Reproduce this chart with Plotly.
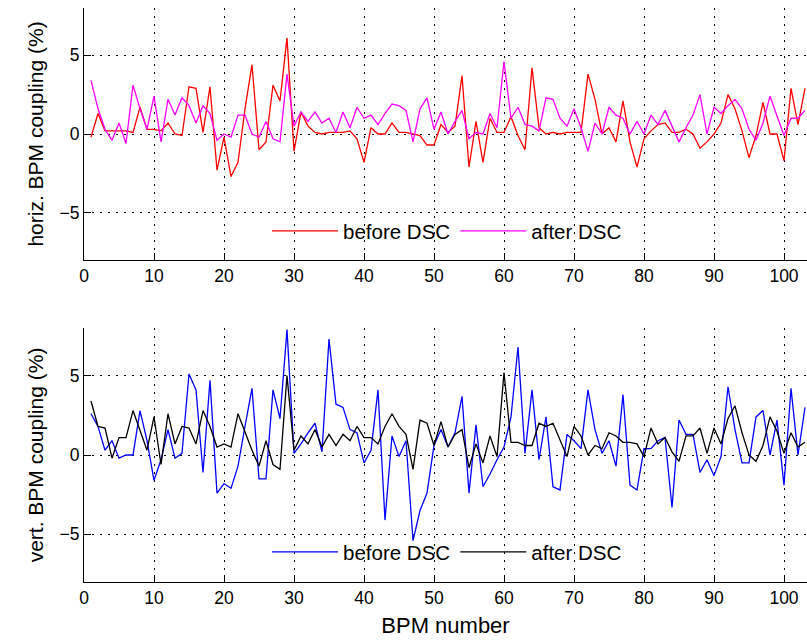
import plotly.graph_objects as go
from plotly.subplots import make_subplots

bpm = list(range(1, 104))

horiz_before = [
    -0.2, 1.3, 0.2, 0.2, 0.2, 0.2, 0.1, 1.7, 0.3, 0.3,
    0.2, 0.7, 0.0, -0.1, 3.0, 2.9, 0.1, 3.0, -2.3, -0.2,
    -2.7, -1.8, 1.6, 4.4, -1.0, -0.5, 3.1, 2.1, 6.1, -1.1,
    1.4, 0.5, 0.1, 0.0, 0.1, 0.1, 0.1, 0.2, -0.3, -1.8,
    0.4, 0.0, 0.0, 0.7, 0.1, 0.1, 0.0, -0.1, -0.7, -0.7,
    0.6, 0.1, 0.5, 3.7, -2.1, 0.8, -1.8, 1.0, 0.1, 0.1,
    1.1, -0.1, -1.0, 4.2, 0.4, 0.0, 0.1, 0.0, 0.1, 0.1,
    0.1, 3.8, 2.2, 0.0, 0.4, -0.5, 2.1, -0.5, -2.1, -0.3,
    0.2, 0.6, 0.7, 0.1, 0.1, 0.3, 0.0, -0.9, -0.5, 0.0,
    0.7, 2.5, 1.6, 0.2, -1.5, -0.1, 2.0, 0.0, 0.0, -1.7,
    2.9, 0.6, 2.9,
]
horiz_after = [
    3.4, 1.6, 0.3, -0.4, 0.7, -0.6, 3.1, 1.6, 0.3, 2.4,
    -0.5, 2.2, 1.2, 2.3, 1.8, 0.7, 1.8, 1.3, -0.4, 0.0,
    -0.2, 1.2, 1.2, 0.0, -0.2, 0.8, -0.3, -0.5, 3.8, 0.5,
    1.4, 0.8, 1.4, 0.7, 1.0, 0.1, 1.4, 0.4, 1.7, 1.0,
    1.2, 0.6, 1.3, 1.9, 1.8, 1.5, -0.5, 1.6, 2.3, 0.3,
    1.4, 0.0, 0.8, 1.5, -0.3, 0.1, 0.0, 1.3, 0.4, 4.6,
    1.0, 1.7, 0.6, 0.5, 0.2, 2.3, 2.2, 1.0, 0.5, 1.6,
    0.4, -1.1, 0.7, 0.0, 1.7, 1.2, 1.0, 0.0, 0.8, 0.0,
    1.2, 0.6, 1.5, 0.5, -0.5, 0.4, 1.2, 2.5, 0.0, 1.7,
    1.3, 1.8, 2.2, 1.6, 0.3, -0.4, 0.7, 2.4, 1.2, -0.1,
    1.0, 1.0, 1.5,
]
vert_before = [
    2.6, 1.8, 0.3, 0.9, -0.2, 0.0, 0.0, 2.8, 0.9, -1.6,
    -0.3, 1.6, -0.2, 0.1, 5.1, 4.1, -1.1, 4.7, -2.4, -1.8,
    -2.1, -0.7, 1.8, 4.2, -1.5, -1.5, 4.1, 2.3, 7.9, 0.1,
    0.7, 1.4, 2.0, 0.2, 7.3, 3.2, 3.0, 1.6, 1.4, -0.5,
    0.3, 4.1, -4.1, 1.2, -0.1, 0.9, -5.4, -3.5, -2.4, 0.6,
    1.6, 0.5, 1.4, 3.7, -2.4, 1.9, -2.0, -1.2, -0.3, 0.5,
    2.4, 6.8, 0.1, 4.1, -0.3, 2.4, -2.0, -2.2, 1.3, 0.9,
    0.4, 4.1, 1.6, 0.1, 0.9, -0.7, 3.8, -1.9, -2.2, 0.4,
    0.4, 0.9, 1.1, -3.3, 2.2, 1.3, 1.3, -1.1, -0.3, -1.3,
    -0.1, 4.3, 1.6, -0.5, -0.5, 2.4, 2.8, 0.0, 2.2, -1.9,
    4.2, 0.0, 3.0,
]
vert_after = [
    3.4, 1.8, 1.7, -0.2, 1.1, 1.1, 2.8, 1.6, 0.3, 2.4,
    -0.6, 2.6, 0.7, 1.8, 1.7, 0.7, 2.8, 1.8, 0.5, 0.7,
    0.5, 2.6, 1.4, 0.3, -0.7, 0.9, -0.6, -0.9, 5.0, 0.3,
    1.2, 0.7, 1.6, 0.5, 1.3, 0.6, 1.3, 0.9, 1.8, 1.1,
    1.1, 0.7, 1.8, 2.6, 1.8, 1.3, -0.9, 2.2, 2.0, 0.6,
    2.1, 0.5, 1.3, 1.6, -0.8, 0.7, -0.5, 1.2, -0.1, 5.2,
    0.8, 0.8, 0.6, 0.6, 2.0, 1.8, 2.0, 0.9, -0.1, 1.8,
    1.2, 0.0, 0.6, 0.4, 1.4, 1.2, 0.8, 0.8, 0.7, -0.1,
    1.7, 0.7, 1.1, 0.2, -0.4, 1.2, 1.2, 1.7, 0.1, 1.7,
    0.7, 2.3, 3.1, 1.4, 0.0, -0.4, 0.6, 2.4, 1.5, 0.1,
    1.4, 0.5, 0.8,
]

y_ticks = [-5, 0, 5]
x_ticks = [0, 10, 20, 30, 40, 50, 60, 70, 80, 90, 100]
legend_labels = ["before DSC", "after DSC"]
y_titles = ["horiz. BPM coupling (%)", "vert. BPM coupling (%)"]
x_title = "BPM number"

FONT = "Liberation Sans, Arial, sans-serif"

fig = make_subplots(rows=2, cols=1, vertical_spacing=0.0)

fig.add_trace(go.Scatter(x=bpm, y=horiz_before, mode="lines", name=legend_labels[0],
                         line=dict(color="#ff0000", width=1.3), legend="legend"), row=1, col=1)
fig.add_trace(go.Scatter(x=bpm, y=horiz_after, mode="lines", name=legend_labels[1],
                         line=dict(color="#ff00ff", width=1.3), legend="legend"), row=1, col=1)
fig.add_trace(go.Scatter(x=bpm, y=vert_before, mode="lines", name=legend_labels[0],
                         line=dict(color="#0000ff", width=1.3), legend="legend2"), row=2, col=1)
fig.add_trace(go.Scatter(x=bpm, y=vert_after, mode="lines", name=legend_labels[1],
                         line=dict(color="#000000", width=1.3), legend="legend2"), row=2, col=1)

L, R, T, B = 84, 0, 8, 59
W, H = 807, 641
ph = H - T - B

def py(img_y):
    return (H - img_y - B) / ph

axis_common = dict(
    showline=True, linecolor="black", linewidth=1, mirror=False,
    ticks="inside", ticklen=7, tickcolor="black", tickwidth=1,
    showgrid=True, gridcolor="black", griddash="1.5px,6.5px", gridwidth=1.3,
    zeroline=False, tickfont=dict(family=FONT, size=17.5, color="black"),
)

for r in (1, 2):
    fig.update_xaxes(range=[0, (W - L) / 7.0], tickvals=x_ticks, row=r, col=1, **axis_common)
    fig.update_yaxes(range=[-8, 8], tickvals=y_ticks, row=r, col=1,
                     title=dict(text=y_titles[r - 1], font=dict(family=FONT, size=21, color="black"),
                                standoff=10),
                     **axis_common)

fig.update_layout(
    xaxis=dict(domain=[0, 1], anchor="y"),
    yaxis=dict(domain=[py(260), py(8)]),
    xaxis2=dict(domain=[0, 1], anchor="y2",
                title=dict(text=x_title, font=dict(family=FONT, size=22, color="black"), standoff=10)),
    yaxis2=dict(domain=[py(582), py(328)]),
)

leg_common = dict(orientation="h", bgcolor="rgba(0,0,0,0)", borderwidth=0,
                  font=dict(family=FONT, size=20.5, color="black"),
                  xanchor="left", yanchor="middle", itemwidth=66, tracegroupgap=0)
fig.update_layout(
    legend=dict(x=(267 - L) / (W - L), y=py(231), **leg_common),
    legend2=dict(x=(267 - L) / (W - L), y=py(552), **leg_common),
)

fig.update_layout(
    width=W, height=H,
    margin=dict(l=L, r=R, t=T, b=B, autoexpand=False),
    paper_bgcolor="white", plot_bgcolor="white",
    font=dict(family=FONT, color="black"),
    showlegend=True,
)

fig.write_html("out.html")
